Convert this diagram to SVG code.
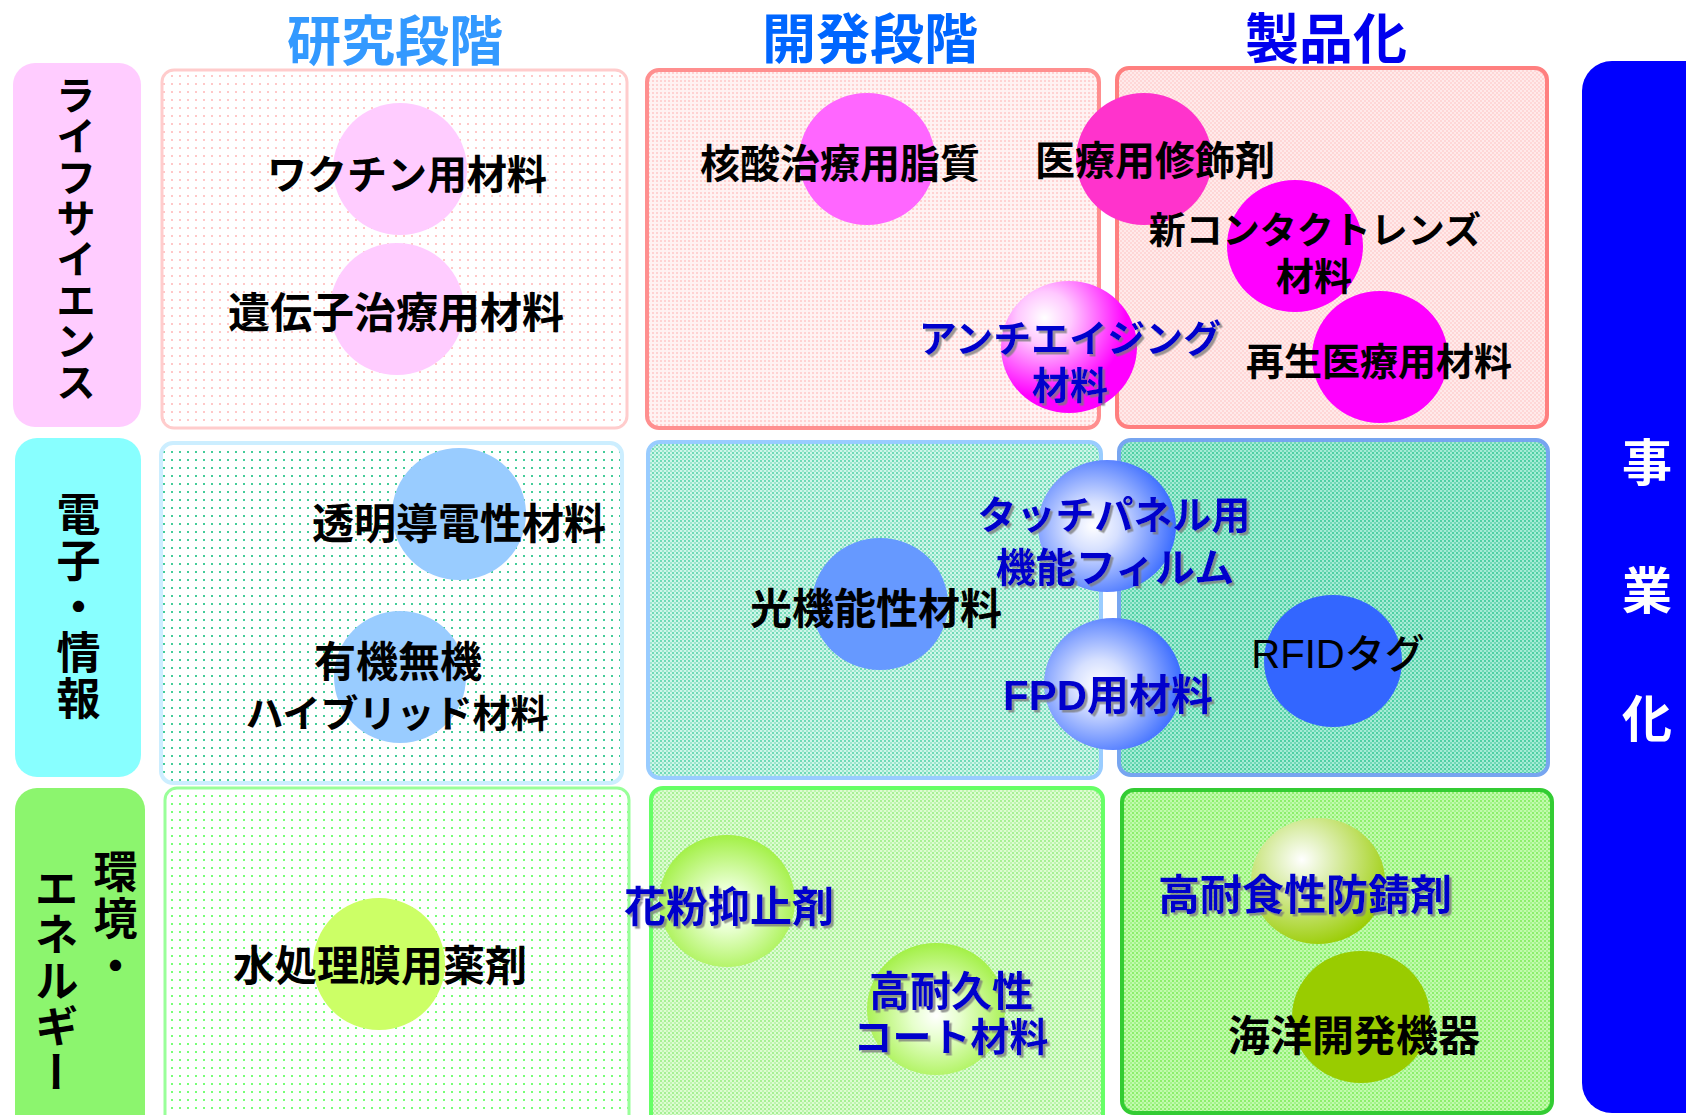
<svg xmlns="http://www.w3.org/2000/svg" width="1686" height="1115" viewBox="0 0 1686 1115">
<style>
text{font-family:"Liberation Sans","Noto Sans CJK JP",sans-serif;font-weight:bold;text-anchor:middle}
.blk{fill:#000}
.blu{fill:#0000CC;filter:url(#sh)}
.title{font-size:54px}
.vert{writing-mode:vertical-rl;text-anchor:start}
.box{stroke-width:4}
</style>
<defs>
<filter id="sh" x="-10%" y="-10%" width="130%" height="140%">
<feDropShadow dx="2.5" dy="2.5" stdDeviation="0.6" flood-color="#7a7a7a" flood-opacity="0.75"/>
</filter>
<pattern id="pResPink" width="8" height="8" patternUnits="userSpaceOnUse"><rect width="8" height="8" fill="#fff"/><rect x="3" y="3" width="2" height="2" fill="#FFC8C8"/></pattern>
<pattern id="pDevPink" width="4" height="4" patternUnits="userSpaceOnUse"><rect width="4" height="4" fill="#FFF2F2"/><rect width="2" height="2" fill="#FFD2D2"/></pattern>
<pattern id="pProdPink" width="4" height="4" patternUnits="userSpaceOnUse"><rect width="4" height="4" fill="#FFEAEA"/><rect width="2" height="2" fill="#FFD6D6"/><rect x="2" y="2" width="2" height="2" fill="#FFD6D6"/></pattern>
<pattern id="pResCyan" width="8" height="8" patternUnits="userSpaceOnUse"><rect width="8" height="8" fill="#fff"/><rect x="3" y="3" width="2" height="2" fill="#44CC99"/></pattern>
<pattern id="pDevTeal" width="4" height="4" patternUnits="userSpaceOnUse"><rect width="4" height="4" fill="#CFF6E9"/><rect width="2" height="2" fill="#6FDAB6"/><rect x="2" y="2" width="2" height="2" fill="#9CE6CD"/></pattern>
<pattern id="pProdTeal" width="4" height="4" patternUnits="userSpaceOnUse"><rect width="4" height="4" fill="#A6ECD6"/><rect width="2" height="2" fill="#4FCFA3"/><rect x="2" y="2" width="2" height="2" fill="#70D8B6"/></pattern>
<pattern id="pResGreen" width="8" height="8" patternUnits="userSpaceOnUse"><rect width="8" height="8" fill="#fff"/><rect x="3" y="3" width="2" height="2" fill="#77FF77"/></pattern>
<pattern id="pDevGreen" width="4" height="4" patternUnits="userSpaceOnUse"><rect width="4" height="4" fill="#DDFCD2"/><rect width="2" height="2" fill="#A6F094"/><rect x="2" y="2" width="2" height="2" fill="#BEF5AE"/></pattern>
<pattern id="pProdGreen" width="4" height="4" patternUnits="userSpaceOnUse"><rect width="4" height="4" fill="#C2FBAE"/><rect width="2" height="2" fill="#8CEE6C"/><rect x="2" y="2" width="2" height="2" fill="#A4F48A"/></pattern>
<radialGradient id="gMag" cx="0.32" cy="0.28" r="0.8"><stop offset="0" stop-color="#fff"/><stop offset="0.25" stop-color="#FFC8FF"/><stop offset="0.75" stop-color="#FF00FF"/></radialGradient>
<radialGradient id="gBlue" cx="0.4" cy="0.5" r="0.62"><stop offset="0" stop-color="#fff"/><stop offset="0.3" stop-color="#D6E0FF"/><stop offset="1" stop-color="#3366FF"/></radialGradient>
<radialGradient id="gLime" cx="0.5" cy="0.55" r="0.6"><stop offset="0" stop-color="#fff"/><stop offset="0.3" stop-color="#E6FFCC"/><stop offset="1" stop-color="#99EE33"/></radialGradient>
<radialGradient id="gOlive" cx="0.38" cy="0.33" r="0.72"><stop offset="0" stop-color="#fff"/><stop offset="0.25" stop-color="#E4F2C2"/><stop offset="1" stop-color="#99CC00"/></radialGradient>
</defs>

<g id="headers">
<text class="title" x="395" y="61" fill="#3399FF">研究段階</text>
<text class="title" x="870" y="59" fill="#0066FF">開発段階</text>
<text class="title" x="1326" y="59" fill="#0000EE">製品化</text>
</g>

<g id="cat-life">
<rect x="13" y="63" width="128" height="364" rx="22" fill="#FFCCFF"/>
<text class="blk vert" x="73" y="75" font-size="40" letter-spacing="1">ライフサイエンス</text>
</g>
<g id="cat-elec">
<rect x="15" y="438" width="126" height="339" rx="22" fill="#88FFFF"/>
<text class="blk vert" x="75" y="492" font-size="44" letter-spacing="2">電子・情報</text>
</g>
<g id="cat-env">
<rect x="15" y="788" width="130" height="360" rx="22" fill="#8CF56E"/>
<text class="blk vert" x="112" y="849" font-size="44" letter-spacing="3">環境・</text>
<text class="blk vert" x="53" y="866" font-size="44" letter-spacing="2">エネルギー</text>
</g>
<g id="business">
<rect x="1582" y="61" width="150" height="1052" rx="30" fill="#0000FF"/>
<text class="vert" x="1642" y="437" font-size="50" letter-spacing="78" fill="#fff">事業化</text>
</g>

<g id="boxes">
<rect id="box-res-life" x="162" y="70" width="465" height="358" rx="12" fill="url(#pResPink)" stroke="#FFCCCC" stroke-width="3"/>
<rect id="box-dev-life" x="647" y="70" width="452" height="358" rx="12" fill="url(#pDevPink)" stroke="#FF8F8F" class="box"/>
<rect id="box-prod-life" x="1117" y="68" width="430" height="359" rx="12" fill="url(#pProdPink)" stroke="#FF7F7F" class="box"/>
<rect id="box-res-elec" x="161" y="443" width="461" height="340" rx="12" fill="url(#pResCyan)" stroke="#CCEEFF" class="box"/>
<rect id="box-dev-elec" x="648" y="442" width="453" height="336" rx="12" fill="url(#pDevTeal)" stroke="#99CCFF" class="box"/>
<rect id="box-prod-elec" x="1119" y="440" width="429" height="335" rx="12" fill="url(#pProdTeal)" stroke="#77A5F0" class="box"/>
<rect id="box-res-env" x="165" y="788" width="464" height="345" rx="12" fill="url(#pResGreen)" stroke="#99FF99" stroke-width="3"/>
<rect id="box-dev-env" x="651" y="788" width="452" height="345" rx="12" fill="url(#pDevGreen)" stroke="#66FF66" class="box"/>
<rect id="box-prod-env" x="1122" y="790" width="430" height="323" rx="12" fill="url(#pProdGreen)" stroke="#33CC33" class="box"/>
</g>

<g id="connectors"/>

<g id="n-vaccine"><ellipse cx="400" cy="169" rx="67" ry="66" fill="#FFCCFF"/><text class="blk" x="407" y="189" font-size="40">ワクチン用材料</text></g>
<g id="n-gene"><ellipse cx="397" cy="309" rx="67" ry="66" fill="#FFCCFF"/><text class="blk" x="396" y="328" font-size="42">遺伝子治療用材料</text></g>
<g id="n-nucleic"><ellipse cx="867" cy="159" rx="68" ry="66" fill="#FF66FF"/><text class="blk" x="840" y="178" font-size="40">核酸治療用脂質</text></g>
<g id="n-medmod"><ellipse cx="1144" cy="159" rx="68" ry="66" fill="#FF33CC"/><text class="blk" x="1155" y="175" font-size="40">医療用修飾剤</text></g>
<g id="n-contact"><ellipse cx="1295" cy="246" rx="68" ry="66" fill="#FF00FF"/><text class="blk" x="1315" y="244" font-size="37">新コンタクトレンズ</text><text class="blk" x="1314" y="290" font-size="38">材料</text></g>
<g id="n-regen"><ellipse cx="1380" cy="357" rx="68" ry="66" fill="#FF00FF"/><text class="blk" x="1379" y="375" font-size="38">再生医療用材料</text></g>
<g id="n-antiaging"><ellipse cx="1069" cy="347" rx="68" ry="66" fill="url(#gMag)"/><text class="blu" x="1070" y="352" font-size="38">アンチエイジング</text><text class="blu" x="1070" y="399" font-size="38">材料</text></g>

<g id="n-transparent"><ellipse cx="459" cy="514" rx="67" ry="66" fill="#99CCFF"/><text class="blk" x="459" y="539" font-size="42">透明導電性材料</text></g>
<g id="n-hybrid"><ellipse cx="400" cy="677" rx="66" ry="66" fill="#99CCFF"/><text class="blk" x="398" y="677" font-size="42">有機無機</text><text class="blk" x="397" y="727" font-size="38">ハイブリッド材料</text></g>
<g id="n-optical"><ellipse cx="880" cy="604" rx="68" ry="66" fill="#6699FF"/><text class="blk" x="876" y="624" font-size="42">光機能性材料</text></g>
<g id="n-touch"><ellipse cx="1107" cy="526" rx="69" ry="66" fill="url(#gBlue)"/><text class="blu" x="1114" y="529" font-size="39">タッチパネル用</text><text class="blu" x="1115" y="582" font-size="40">機能フィルム</text></g>
<g id="n-fpd"><ellipse cx="1113" cy="684" rx="69" ry="66" fill="url(#gBlue)"/><text class="blu" x="1108" y="710" font-size="42">FPD用材料</text></g>
<g id="n-rfid"><ellipse cx="1333" cy="661" rx="69" ry="66" fill="#3366FF"/><text class="blk" x="1338" y="668" font-size="40" style="font-weight:500">RFIDタグ</text></g>

<g id="n-water"><ellipse cx="379" cy="964" rx="66" ry="66" fill="#CCFF66"/><text class="blk" x="380" y="981" font-size="42">水処理膜用薬剤</text></g>
<g id="n-pollen"><ellipse cx="727" cy="901" rx="68" ry="66" fill="url(#gLime)"/><text class="blu" x="729" y="922" font-size="42">花粉抑止剤</text></g>
<g id="n-durable"><ellipse cx="936" cy="1009" rx="69" ry="66" fill="url(#gLime)"/><text class="blu" x="951" y="1006" font-size="41">高耐久性</text><text class="blu" x="951" y="1051" font-size="39">コート材料</text></g>
<g id="n-rust"><ellipse cx="1318" cy="881" rx="67" ry="63" fill="url(#gOlive)"/><text class="blu" x="1305" y="910" font-size="42">高耐食性防錆剤</text></g>
<g id="n-marine"><ellipse cx="1361" cy="1017" rx="69" ry="66" fill="#99CC00"/><text class="blk" x="1354" y="1051" font-size="42">海洋開発機器</text></g>
</svg>
